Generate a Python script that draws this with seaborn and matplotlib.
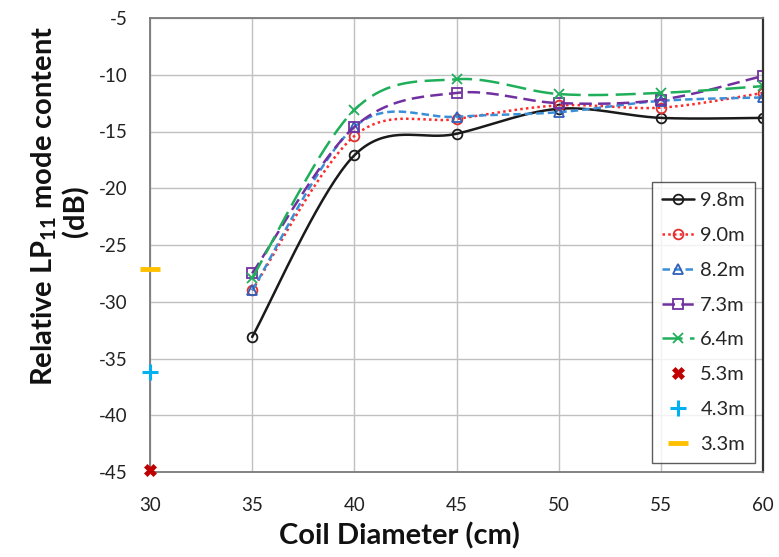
import numpy as np
import pandas as pd
import matplotlib
matplotlib.use("Agg")
import matplotlib.pyplot as plt
from matplotlib.lines import Line2D
import seaborn as sns

# Coil diameters (cm) and measured LP11 content (dB) per fibre length
diameters = [35, 40, 45, 50, 55, 60]
lp11_9_8m = [-33.1, -17.1, -15.2, -13.0, -13.8, -13.8]
lp11_9_0m = [-29.0, -15.4, -13.9, -12.7, -12.9, -11.6]
lp11_8_2m = [-29.0, -14.6, -13.7, -13.3, -12.3, -12.0]
lp11_7_3m = [-27.5, -14.6, -11.6, -12.5, -12.2, -10.1]
lp11_6_4m = [-27.9, -13.1, -10.4, -11.7, -11.6, -11.0]

# Shorter lengths measured only at the 30 cm diameter
single_diam = 30
lp11_5_3m = -44.8
lp11_4_3m = -36.2
lp11_3_3m = -27.1

x_ticks = [30, 35, 40, 45, 50, 55, 60]
y_ticks = [-45, -40, -35, -30, -25, -20, -15, -10, -5]

sns.set_theme(style="white")
plt.rcParams["font.family"] = ["Lato", "DejaVu Sans"]
plt.rcParams["mathtext.fontset"] = "custom"
plt.rcParams["mathtext.bf"] = "Lato:bold"
plt.rcParams["mathtext.rm"] = "Lato"


def smooth(xs, ys, n=40):
    """Excel-style smoothed line (Catmull-Rom Bezier through the points)."""
    p = np.column_stack([xs, ys]).astype(float)
    p = np.vstack([p[0], p, p[-1]])
    out = []
    t = np.linspace(0, 1, n)
    for i in range(1, len(p) - 2):
        p0, p1, p2, p3 = p[i - 1], p[i], p[i + 1], p[i + 2]
        c1 = p1 + (p2 - p0) / 6.0
        c2 = p2 - (p3 - p1) / 6.0
        seg = ((1 - t) ** 3)[:, None] * p1 + (3 * (1 - t) ** 2 * t)[:, None] * c1 \
            + (3 * (1 - t) * t ** 2)[:, None] * c2 + (t ** 3)[:, None] * p2
        out.append(seg if i == 1 else seg[1:])
    out = np.vstack(out)
    return out[:, 0], out[:, 1]


series = [
    ("9.8m", lp11_9_8m, "#1a1a1a", "-", "o", "#1a1a1a"),
    ("9.0m", lp11_9_0m, "#ff2a2a", (0, (1, 1.3)), "o", "#e03030"),
    ("8.2m", lp11_8_2m, "#3b8fd6", (0, (3, 1.6)), "^", "#3060b8"),
    ("7.3m", lp11_7_3m, "#7030a0", (0, (5, 2.5)), "s", "#7030a0"),
    ("6.4m", lp11_6_4m, "#1fae5a", (0, (8, 3)), "x", "#1fae5a"),
]

fig = plt.figure(figsize=(7.79, 5.57), dpi=100)
ax = fig.add_axes([150 / 779, 1 - 472 / 557, (763 - 150) / 779, (472 - 18) / 557])

handles = []
for label, vals, lc, ls, mk, mc in series:
    sx, sy = smooth(diameters, vals)
    sns.lineplot(x=sx, y=sy, ax=ax, color=lc, linestyle=ls, linewidth=1.8,
                 sort=False, estimator=None, legend=False)
    sns.lineplot(x=diameters, y=vals, ax=ax, color=mc, linestyle="", marker=mk,
                 markersize=7, markerfacecolor="none", markeredgecolor=mc,
                 markeredgewidth=1.3, legend=False, estimator=None)
    handles.append(Line2D([], [], color=lc, linestyle=ls, linewidth=1.8, marker=mk,
                          markersize=7, markerfacecolor="none", markeredgecolor=mc,
                          markeredgewidth=1.3, label=label))

singles = pd.DataFrame({
    "diam": [single_diam] * 3,
    "val": [lp11_5_3m, lp11_4_3m, lp11_3_3m],
    "label": ["5.3m", "4.3m", "3.3m"],
})
single_styles = [("X", "#c00000", 9, 0.5), ("+", "#00b0f0", 12, 2.2), ("_", "#ffc000", 14, 3.5)]
for (_, row), (mk, col, ms, mew) in zip(singles.iterrows(), single_styles):
    sns.lineplot(x=[row["diam"]], y=[row["val"]], ax=ax, linestyle="", marker=mk,
                 markersize=ms, color=col, markerfacecolor=col, markeredgecolor=col,
                 markeredgewidth=mew, legend=False, estimator=None, clip_on=False, zorder=5)
    handles.append(Line2D([], [], linestyle="", marker=mk, markersize=ms, color=col,
                          markerfacecolor=col, markeredgecolor=col, markeredgewidth=mew,
                          label=row["label"]))

ax.set_xlim(30, 60)
ax.set_ylim(-45, -5)
ax.set_xticks(x_ticks)
ax.set_yticks(y_ticks)
ax.set_xticklabels([str(v) for v in x_ticks])
ax.set_yticklabels([str(v) for v in y_ticks])
ax.tick_params(axis="both", length=0, labelsize=13.5, colors="#222222")
ax.tick_params(axis="x", pad=18)
ax.tick_params(axis="y", pad=16)
ax.grid(True, color="#c0c0c0", linewidth=1.0)
ax.set_xlabel("")
ax.set_ylabel("")
for side in ["left", "bottom", "top"]:
    ax.spines[side].set_color("#7a7a7a")
    ax.spines[side].set_linewidth(1.3)
ax.spines["right"].set_color("#333333")
ax.spines["right"].set_linewidth(1.6)

leg = ax.legend(handles=handles, loc="upper left", bbox_to_anchor=((652 - 150) / 613, 1 - (182 - 18) / 454),
                frameon=True, fancybox=False, fontsize=14.5, handlelength=1.6, handletextpad=0.3,
                labelspacing=0.88, borderpad=0.5, borderaxespad=0)
leg.get_frame().set_edgecolor("#333333")
leg.get_frame().set_linewidth(1.0)

fig.text(399 / 779, 1 - 536 / 557, "Coil Diameter (cm)", ha="center", va="center",
         fontsize=21, fontweight="bold", color="#111111")
fig.text(44 / 779, 1 - 206 / 557, r"Relative LP$_{\mathbf{11}}$ mode content", ha="center",
         va="center", rotation=90, fontsize=21, fontweight="bold", color="#111111")
fig.text(76 / 779, 1 - 211 / 557, "(dB)", ha="center", va="center", rotation=90,
         fontsize=21, fontweight="bold", color="#111111")

fig.savefig("out.png", dpi=100)
